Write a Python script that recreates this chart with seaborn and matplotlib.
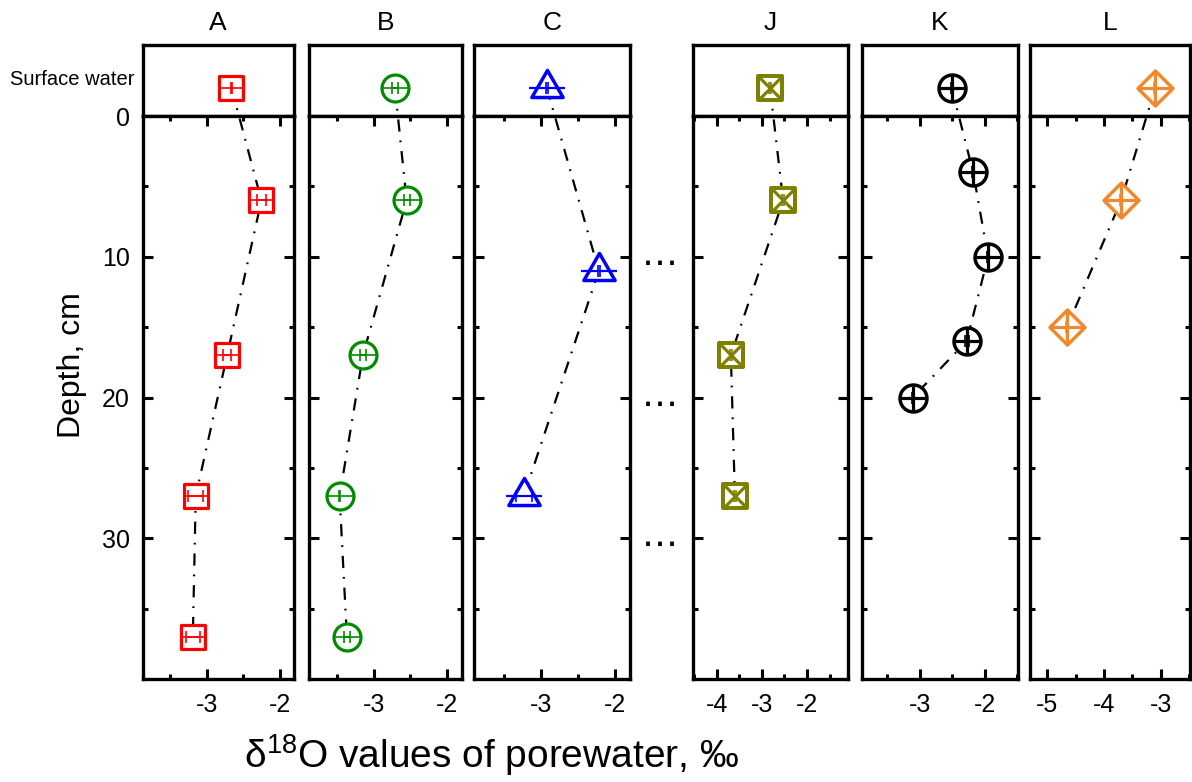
import matplotlib
matplotlib.use("Agg")
import matplotlib.pyplot as plt
import seaborn as sns
from matplotlib.path import Path
from matplotlib.ticker import FixedLocator, MultipleLocator
from matplotlib.transforms import blended_transform_factory

# ---------------------------------------------------------------- data
panel_names = ["A", "B", "C", "J", "K", "L"]

# surface-water d18O (first value of each profile) and its SD
surface_d18o = [-2.66, -2.71, -2.92, -2.82, -2.51, -3.10]
surface_sd = [0.01, 0.04, 0.01, 0.02, 0.01, 0.02]

depth_A = [6, 17, 27, 37]
d18o_A = [-2.25, -2.72, -3.15, -3.19]
sd_A = [0.06, 0.06, 0.10, 0.10]

depth_B = [6, 17, 27, 37]
d18o_B = [-2.55, -3.15, -3.47, -3.37]
sd_B = [0.04, 0.04, 0.01, 0.04]

depth_C = [11, 27]
d18o_C = [-2.22, -3.23]
sd_C = [0.01, 0.11]

depth_J = [6, 17, 27]
d18o_J = [-2.53, -3.69, -3.60]
sd_J = [0.02, 0.02, 0.02]

depth_K = [4, 10, 16, 20]
d18o_K = [-2.18, -1.95, -2.28, -3.11]
sd_K = [0.01, 0.01, 0.03, 0.01]

depth_L = [6, 15]
d18o_L = [-3.70, -4.65]
sd_L = [0.02, 0.02]

x_ticks = [[-3, -2], [-3, -2], [-3, -2], [-4, -3, -2], [-3, -2], [-5, -4, -3]]
depth_ticks = [0, 10, 20, 30]

# ---------------------------------------------------------------- layout / style
W, H = 1192, 782
SURFACE_Y = -2.0          # surface water row is drawn above the sediment scale
TOP_PX, SPLIT_PX, BOTTOM_PX = 45, 116, 679
panel_px = [(142.5, 293.5), (309, 462), (474, 630), (693, 848), (862, 1018), (1030, 1190)]
x_limits = [(-3.88, -1.81), (-3.89, -1.79), (-3.90, -1.80),
            (-4.53, -1.09), (-3.89, -1.49), (-5.30, -2.49)]

# equilateral triangle centred on its centroid
triangle = Path([(0, 2 / 3), (-0.577, -1 / 3), (0.577, -1 / 3), (0, 2 / 3)],
                [Path.MOVETO, Path.LINETO, Path.LINETO, Path.CLOSEPOLY])

styles = {
    "A": dict(color="#FF0000", marker="s", size=17.3, inner="_", inner_size=17.3, inner_lw=1.2, lw=2.3),
    "B": dict(color="#008C00", marker="o", size=19.4, inner="_", inner_size=19.4, inner_lw=1.2, lw=2.3),
    "C": dict(color="#0000FF", marker=triangle, size=26, inner="_", inner_size=26, inner_lw=1.6, lw=2.5),
    "J": dict(color="#808000", marker="s", size=17.3, inner="x", inner_size=17.3, inner_lw=2.3, lw=2.9),
    "K": dict(color="#000000", marker="o", size=19.4, inner="+", inner_size=19.4, inner_lw=2.3, lw=2.5),
    "L": dict(color="#F0892E", marker="D", size=17.8, inner="+", inner_size=25.2, inner_lw=2.3, lw=2.5),
}

profiles = {
    "A": (depth_A, d18o_A, sd_A),
    "B": (depth_B, d18o_B, sd_B),
    "C": (depth_C, d18o_C, sd_C),
    "J": (depth_J, d18o_J, sd_J),
    "K": (depth_K, d18o_K, sd_K),
    "L": (depth_L, d18o_L, sd_L),
}

sns.set_theme(style="ticks")
plt.rcParams["font.family"] = ["Liberation Sans", "DejaVu Sans"]
plt.rcParams["axes.unicode_minus"] = False
plt.rcParams["mathtext.default"] = "regular"
plt.rcParams["text.color"] = "black"
plt.rcParams["xtick.labelcolor"] = "black"
plt.rcParams["ytick.labelcolor"] = "black"

SPINE_W = 2.4
fig = plt.figure(figsize=(W / 100, H / 100), dpi=100)


def frac_box(left, right, top, bottom):
    return [left / W, 1 - bottom / H, (right - left) / W, (bottom - top) / H]


for i, name in enumerate(panel_names):
    left, right = panel_px[i]
    st = styles[name]
    depth, vals, sds = profiles[name]

    # surface-water strip
    ax_top = fig.add_axes(frac_box(left, right, TOP_PX, SPLIT_PX))
    ax_top.set_xticks([])
    ax_top.set_yticks([])
    for sp in ax_top.spines.values():
        sp.set_linewidth(SPINE_W)
        sp.set_color("black")
    ax_top.text(0.5, 1.31, name, transform=ax_top.transAxes, ha="center",
                va="center", fontsize=19, color="black")
    if i == 0:
        ax_top.text(-0.05, 0.52, "Surface water", transform=ax_top.transAxes,
                    ha="right", va="center", fontsize=14.5, color="black")

    # sediment profile
    ax = fig.add_axes(frac_box(left, right, SPLIT_PX, BOTTOM_PX))
    ys = [SURFACE_Y] + list(depth)
    xs = [surface_d18o[i]] + list(vals)
    es = [surface_sd[i]] + list(sds)

    sns.lineplot(x=xs, y=ys, sort=False, orient="y", estimator=None,
                 color="black", linewidth=1.6, linestyle=(0, (5.5, 4, 0.8, 4)),
                 clip_on=False, zorder=2, ax=ax)
    sns.scatterplot(x=xs, y=ys, marker=st["marker"], s=st["size"] ** 2,
                    color=st["color"], facecolor="white", edgecolor=st["color"],
                    linewidth=st["lw"], clip_on=False, zorder=3, ax=ax)
    sns.scatterplot(x=xs, y=ys, marker=st["inner"], s=st["inner_size"] ** 2,
                    color=st["color"], linewidth=st["inner_lw"],
                    clip_on=False, zorder=4, ax=ax)
    eb = ax.errorbar(xs, ys, xerr=es, fmt="none", ecolor=st["color"],
                     elinewidth=1.2, capsize=4.3, capthick=1.2, zorder=5)
    for art in eb.get_children():
        art.set_clip_on(False)

    ax.set_xlim(*x_limits[i])
    ax.set_ylim(40, 0)
    ax.xaxis.set_major_locator(FixedLocator(x_ticks[i]))
    ax.xaxis.set_minor_locator(MultipleLocator(0.5))
    ax.yaxis.set_major_locator(FixedLocator(depth_ticks))
    ax.yaxis.set_minor_locator(FixedLocator([5, 15, 25, 35]))
    ax.tick_params(which="both", direction="in", top=True, bottom=True,
                   left=True, right=True, width=2.2, color="black",
                   labelsize=18, labelleft=(i == 0), labeltop=False,
                   labelcolor="black")
    ax.tick_params(which="major", length=7.5)
    ax.tick_params(which="minor", length=3.5)
    ax.tick_params(axis="x", pad=10)
    ax.tick_params(axis="y", pad=9)
    ax.set_xlabel("")
    ax.set_ylabel("")
    for sp in ax.spines.values():
        sp.set_linewidth(SPINE_W)
        sp.set_color("black")

    if name == "C":
        tr = blended_transform_factory(ax.transAxes, ax.transData)
        for d in depth_ticks[1:]:
            ax.text(1.19, d + 0.5, "\u22ef", transform=tr, ha="center",
                    va="center", fontsize=26, family="DejaVu Sans",
                    color="black")

fig.text(72 / W, 1 - 365 / H, "Depth, cm", rotation=90, ha="center",
         va="center", fontsize=23, color="black")
fig.text(491 / W, 1 - 755 / H, "\u03b4$^{18}$O values of porewater, \u2030",
         ha="center", va="center", fontsize=28, color="black")

fig.savefig("out.png", dpi=100)
